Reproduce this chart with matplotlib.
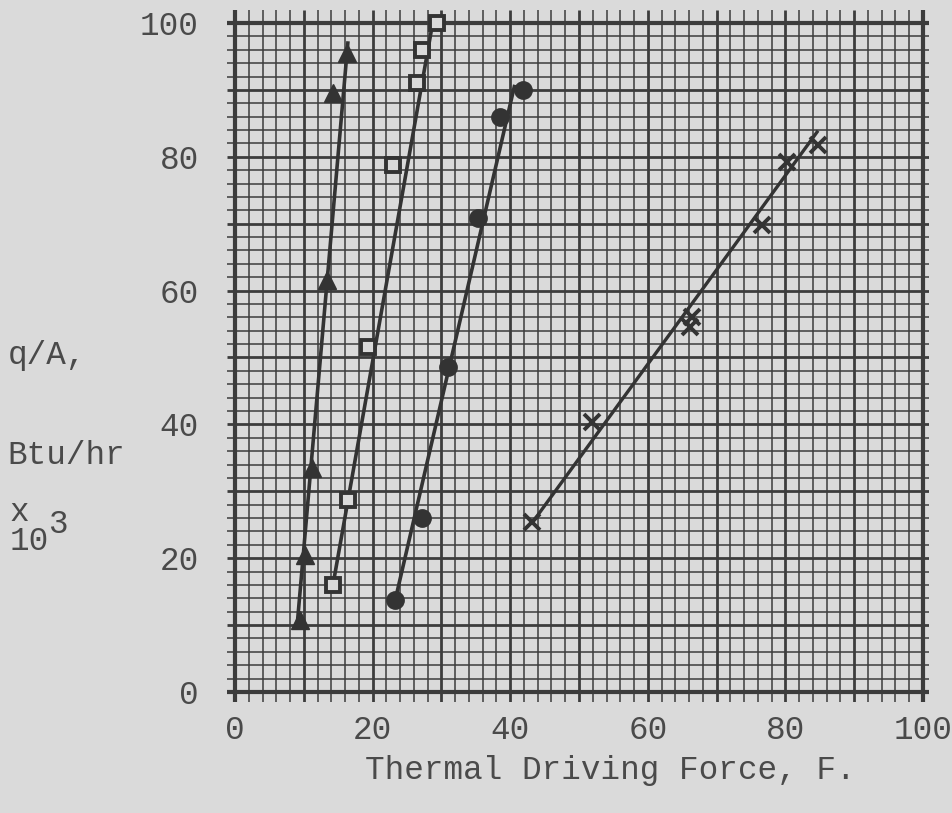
import numpy as np
import matplotlib
matplotlib.use("Agg")
from matplotlib import pyplot as plt

# data (q/A in 1000 Btu/hr vs thermal driving force, F)
tri_x = [9.4, 10.2, 11.2, 13.4, 14.3, 16.3]
tri_y = [10.8, 20.5, 33.5, 61.6, 89.5, 95.5]
tri_fit_x = [9.0, 16.4]
tri_fit_y = [9.6, 97.0]

sq_x = [14.2, 16.4, 19.3, 23.0, 26.5, 27.2, 29.4]
sq_y = [16.0, 28.7, 51.6, 78.8, 91.0, 96.0, 100.0]
sq_fit_x = [14.1, 28.8]
sq_fit_y = [15.2, 100.4]

circ_x = [23.3, 27.2, 31.0, 35.3, 38.5, 41.9]
circ_y = [13.8, 26.0, 48.6, 70.8, 86.0, 90.0]
circ_fit_x = [23.3, 40.6]
circ_fit_y = [13.8, 90.5]

cross_x = [43.2, 51.9, 66.4, 66.1, 76.6, 80.2, 84.7]
cross_y = [25.4, 40.4, 56.1, 54.6, 69.8, 79.2, 81.8]
cross_fit_x = [43.2, 84.6]
cross_fit_y = [25.3, 83.7]

xticks = [0, 20, 40, 60, 80, 100]
yticks = [0, 20, 40, 60, 80, 100]

paper = '#dadada'
ink = '#3c3c3c'
txt = '#4a4a4a'
mono = 'Liberation Mono'
fs = 23.5

fig = plt.figure(figsize=(9.52, 8.13), dpi=100, facecolor=paper)
# data x=0 at 235px, x=100 at 923px; y=0 at 692px, y=100 at 23px
x0, x1 = -1.2, 100.8
y0, y1 = -1.5, 102.0
sx = 6.88
sy = 6.69
left = (235 + x0 * sx) / 952
width = (x1 - x0) * sx / 952
bottom = (813 - (692 - y0 * sy)) / 813
height = (y1 - y0) * sy / 813
ax = fig.add_axes([left, bottom, width, height])
ax.set_facecolor(paper)
ax.set_xlim(x0, x1)
ax.set_ylim(y0, y1)
for s in ax.spines.values():
    s.set_visible(False)

# graph paper grid
for v in range(0, 101, 2):
    if v in (0, 100):
        lw = 3.0
    elif v % 10 == 0:
        lw = 2.0
    else:
        lw = 1.1
    ax.vlines(v, y0, y1, color=ink, lw=lw, zorder=1)
    ax.hlines(v, x0, x1, color=ink, lw=lw, zorder=1)

lc = '#333333'
ax.plot(tri_fit_x, tri_fit_y, color=lc, lw=2.6, zorder=3)
ax.plot(sq_fit_x, sq_fit_y, color=lc, lw=2.6, zorder=3)
ax.plot(circ_fit_x, circ_fit_y, color=lc, lw=2.6, zorder=3)
ax.plot(cross_fit_x, cross_fit_y, color=lc, lw=2.4, zorder=3)

ax.plot(tri_x, tri_y, ls='none', marker='^', ms=13, color=lc, zorder=4)
ax.plot(sq_x, sq_y, ls='none', marker='s', ms=10, mfc=paper, mec=lc, mew=2.8, zorder=4)
ax.plot(circ_x, circ_y, ls='none', marker='o', ms=12.5, color=lc, zorder=4)
ax.plot(cross_x, cross_y, ls='none', marker='x', ms=11, mew=2.8, color=lc, zorder=4)

ax.set_xticks(xticks)
ax.set_yticks(yticks)
ax.set_xticklabels([str(t) for t in xticks], family=mono, fontsize=fs, color=txt)
ax.set_yticklabels([str(t) for t in yticks], family=mono, fontsize=fs, color=txt)
ax.tick_params(axis='x', length=0, pad=9)
ax.tick_params(axis='y', length=0, pad=20)

fig.text(0.641, 0.052, 'Thermal Driving Force, F.', family=mono, fontsize=fs,
         color=txt, ha='center', va='center')
fig.text(0.008, 0.563, 'q/A,', family=mono, fontsize=fs, color=txt, va='center')
fig.text(0.008, 0.440, 'Btu/hr', family=mono, fontsize=fs, color=txt, va='center')
fig.text(0.010, 0.370, 'x', family=mono, fontsize=fs, color=txt, va='center')
fig.text(0.010, 0.334, '10', family=mono, fontsize=fs, color=txt, va='center')
fig.text(0.050, 0.355, '3', family=mono, fontsize=fs, color=txt, va='center')

fig.savefig('out.png', dpi=100, facecolor=paper)
